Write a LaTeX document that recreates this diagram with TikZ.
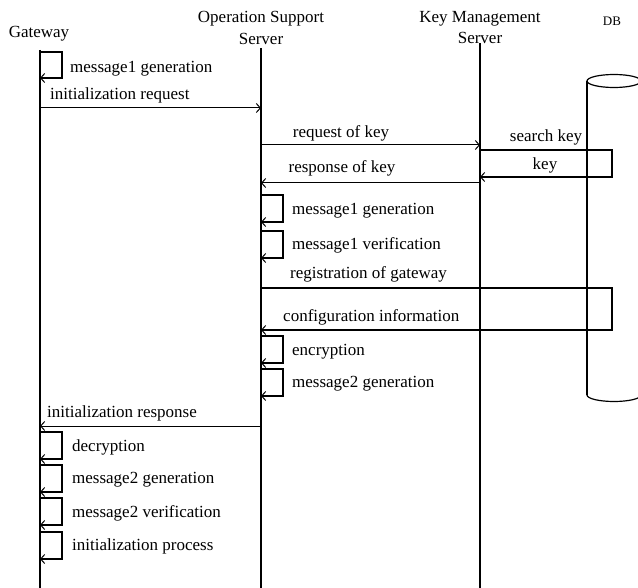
\documentclass[tikz,border=0pt]{standalone}
\usepackage{fontspec}
\setmainfont{Liberation Serif}
\usetikzlibrary{arrows.meta}
\tikzset{
  lbl/.style={inner sep=0pt, font=\fontsize{17}{20}\selectfont, text height=12pt, text depth=3.7pt},
  lblw/.style={lbl, anchor=west},
  lifeline/.style={line width=2pt},
  msg/.style={line width=1pt, -{Straight Barb[length=4pt,width=9pt,line width=1pt]}},
  selfloop/.style={line width=1.6pt, -{Straight Barb[length=4pt,width=9pt,line width=1pt]}},
  boxmsg/.style={line width=1.8pt, -{Straight Barb[length=4pt,width=9pt,line width=1pt]}},
  dbline/.style={line width=1.2pt},
}
\begin{document}
\begin{tikzpicture}[x=1pt,y=-1pt]
\useasboundingbox (0,0) rectangle (638,588);
\clip (0,0) rectangle (638,588);
% headers
\node[lbl] (hgw) at (39,33) {Gateway};
\node[lbl] (hoss1) at (261,18) {Operation Support};
\node[lbl] (hoss2) at (261,40) {Server};
\node[lbl] (hkms1) at (480,18) {Key Management};
\node[lbl] (hkms2) at (480,39) {Server};
\node[inner sep=0pt, font=\fontsize{13}{15}\selectfont] (hdb) at (612,21) {DB};
% lifelines
\coordinate (gwT) at (40,50);  \coordinate (gwB) at (40,588);
\coordinate (osT) at (261,48); \coordinate (osB) at (261,588);
\coordinate (kmT) at (480,43); \coordinate (kmB) at (480,588);
\draw[lifeline] (gwT) -- (gwB);
\draw[lifeline] (osT) -- (osB);
\draw[lifeline] (kmT) -- (kmB);
% DB cylinder
\coordinate (dbTL) at (587,81); \coordinate (dbBL) at (587,395);
\coordinate (dbTR) at (641,81); \coordinate (dbBR) at (641,395);
\draw[dbline] (614,81) ellipse [x radius=27, y radius=6.5];
\draw[dbline] (dbTL) -- (dbBL);
\draw[dbline] (dbTR) -- (dbBR);
\draw[dbline] (dbBL) arc[start angle=180, end angle=360, x radius=27, y radius=-6.5];
% gateway: message1 generation
\coordinate (g1a) at (40,52); \coordinate (g1b) at (40,78);
\draw[selfloop] (g1a) -- ++(22,0) |- (g1b);
\node[lblw] (t1) at (70,68) {message1 generation};
% initialization request
\coordinate (g2) at (40,108); \coordinate (o2) at (261,108);
\draw[msg] (g2) -- (o2);
\node[lblw] (t2) at (50,95) {initialization request};
% request of key
\coordinate (o3) at (261,145); \coordinate (k3) at (480,145);
\draw[msg] (o3) -- (k3);
\node[lbl] (t3) at (341,133) {request of key};
% search key / key
\coordinate (k4a) at (480,150); \coordinate (d4) at (612,150); \coordinate (k4b) at (480,177);
\draw[boxmsg] (k4a) -- (d4) |- (k4b);
\node[lbl] (t4) at (546,137) {search key};
\node[lbl] (t5) at (545,165) {key};
% response of key
\coordinate (k6) at (480,183); \coordinate (o6) at (261,183);
\draw[msg] (k6) -- (o6);
\node[lbl] (t6) at (342,168) {response of key};
% OSS self loops
\coordinate (o7a) at (261,195); \coordinate (o7b) at (261,222);
\draw[selfloop] (o7a) -- ++(22,0) |- (o7b);
\node[lblw] (t7) at (292,210) {message1 generation};
\coordinate (o8a) at (261,231); \coordinate (o8b) at (261,258);
\draw[selfloop] (o8a) -- ++(22,0) |- (o8b);
\node[lblw] (t8) at (292,245) {message1 verification};
% registration / configuration
\node[lblw] (t9) at (290,274) {registration of gateway};
\coordinate (o9a) at (261,288); \coordinate (d9) at (612,288); \coordinate (o9b) at (261,330);
\draw[boxmsg] (o9a) -- (d9) |- (o9b);
\node[lblw] (t10) at (283,317) {configuration information};
% encryption, message2 generation
\coordinate (o11a) at (261,336); \coordinate (o11b) at (261,363);
\draw[selfloop] (o11a) -- ++(22,0) |- (o11b);
\node[lblw] (t11) at (292,351) {encryption};
\coordinate (o12a) at (261,369); \coordinate (o12b) at (261,396);
\draw[selfloop] (o12a) -- ++(22,0) |- (o12b);
\node[lblw] (t12) at (292,383) {message2 generation};
% initialization response
\coordinate (o13) at (261,426); \coordinate (g13) at (40,426);
\draw[msg] (o13) -- (g13);
\node[lblw] (t13) at (47,413) {initialization response};
% gateway loops
\coordinate (g14a) at (40,432); \coordinate (g14b) at (40,459);
\draw[selfloop] (g14a) -- ++(22,0) |- (g14b);
\node[lblw] (t14) at (72,447) {decryption};
\coordinate (g15a) at (40,465); \coordinate (g15b) at (40,492);
\draw[selfloop] (g15a) -- ++(22,0) |- (g15b);
\node[lblw] (t15) at (72,479) {message2 generation};
\coordinate (g16a) at (40,498); \coordinate (g16b) at (40,525);
\draw[selfloop] (g16a) -- ++(22,0) |- (g16b);
\node[lblw] (t16) at (72,513) {message2 verification};
\coordinate (g17a) at (40,532); \coordinate (g17b) at (40,559);
\draw[selfloop] (g17a) -- ++(22,0) |- (g17b);
\node[lblw] (t17) at (72,546) {initialization process};
\end{tikzpicture}
\end{document}
